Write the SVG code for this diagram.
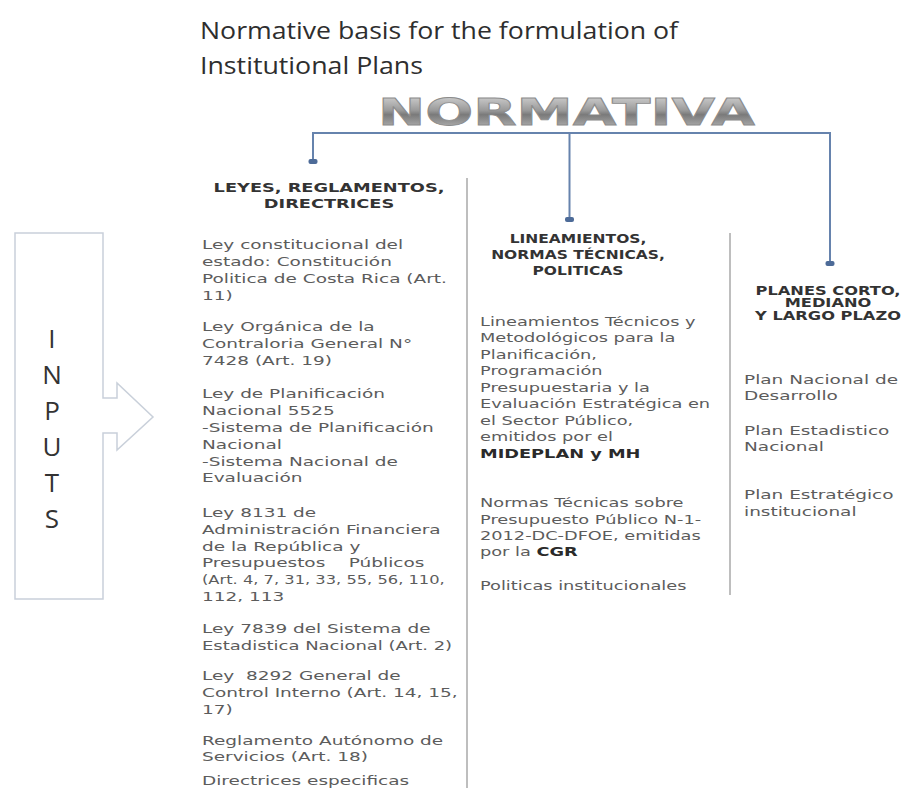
<svg xmlns="http://www.w3.org/2000/svg" width="905" height="788" viewBox="0 0 905 788">
<style>
.title{font-family:"Open Sans","Liberation Sans",sans-serif;font-size:24px;fill:#2e2e2e}
.body{font-family:"DejaVu Sans","Liberation Sans",sans-serif;font-size:12.5px;fill:#5c5c5c}
.b{font-weight:bold;fill:#2a2a2a}
.hdr{font-family:"DejaVu Sans","Liberation Sans",sans-serif;font-size:12.5px;font-weight:bold;fill:#333;text-anchor:middle}
.inp{font-family:"Open Sans","Liberation Sans",sans-serif;font-size:26px;fill:#333;text-anchor:middle}
.conn{stroke:#6683ad;stroke-width:2;fill:none}
.dot{fill:#4d6b98}
.sep{stroke:#a8a8a8;stroke-width:1.5}
</style>
<defs>
<linearGradient id="gN" x1="0" y1="0" x2="0" y2="1">
<stop offset="0" stop-color="#e0e0e0"/>
<stop offset="0.45" stop-color="#9a9a9a"/>
<stop offset="0.55" stop-color="#7a7a7a"/>
<stop offset="1" stop-color="#c8c8c8"/>
</linearGradient>
</defs>
<rect width="905" height="788" fill="#ffffff"/>

<g id="title">
<text class="title" x="200" y="39" textLength="478" lengthAdjust="spacingAndGlyphs">Normative basis for the formulation of</text>
<text class="title" x="200" y="74" textLength="223" lengthAdjust="spacingAndGlyphs">Institutional Plans</text>
</g>

<g id="normativa">
<text x="378" y="125" textLength="377" lengthAdjust="spacingAndGlyphs" font-family="'DejaVu Sans','Liberation Sans',sans-serif" font-weight="bold" font-size="37" fill="url(#gN)" stroke="#8c8c8c" stroke-width="0.8">NORMATIVA</text>
</g>

<g id="connectors">
<path class="conn" d="M313,161 V133 H830 V263"/>
<path class="conn" d="M569.5,133 V219"/>
<rect class="dot" x="308.5" y="159" width="9" height="5" rx="2"/>
<rect class="dot" x="565" y="217" width="9" height="5" rx="2"/>
<rect class="dot" x="825.5" y="261" width="9" height="5" rx="2"/>
</g>

<g id="inputs">
<path d="M15,233 H103 V398 H117 V383 L153,417 L117,450 V433 H103 V599 H15 Z" fill="#ffffff" stroke="#c9d0da" stroke-width="1.5"/>
<text class="inp" x="52" y="348">I</text>
<text class="inp" x="52" y="384">N</text>
<text class="inp" x="52" y="420">P</text>
<text class="inp" x="52" y="456">U</text>
<text class="inp" x="52" y="492">T</text>
<text class="inp" x="52" y="528">S</text>
</g>

<g id="col-leyes">
<line class="sep" x1="467" y1="178" x2="467" y2="788"/>
<g transform="translate(329 0) scale(1.42 1)">
<text class="hdr" x="0" y="192">LEYES, REGLAMENTOS,</text>
<text class="hdr" x="0" y="208">DIRECTRICES</text>
</g>
<g transform="translate(202 0) scale(1.48 1)">
<text class="body" x="0" y="249">Ley constitucional del</text>
<text class="body" x="0" y="266">estado: Constitución</text>
<text class="body" x="0" y="283">Politica de Costa Rica (Art.</text>
<text class="body" x="0" y="300">11)</text>
<text class="body" x="0" y="331">Ley Orgánica de la</text>
<text class="body" x="0" y="348">Contraloria General N°</text>
<text class="body" x="0" y="365">7428 (Art. 19)</text>
<text class="body" x="0" y="398">Ley de Planificación</text>
<text class="body" x="0" y="415">Nacional 5525</text>
<text class="body" x="0" y="432">-Sistema de Planificación</text>
<text class="body" x="0" y="449">Nacional</text>
<text class="body" x="0" y="466">-Sistema Nacional de</text>
<text class="body" x="0" y="482">Evaluación</text>
<text class="body" x="0" y="517">Ley 8131 de</text>
<text class="body" x="0" y="534">Administración Financiera</text>
<text class="body" x="0" y="551">de la República y</text>
<text class="body" x="0" y="567" style="white-space:pre">Presupuestos    Públicos</text>
<text class="body" x="0" y="584" textLength="164" lengthAdjust="spacingAndGlyphs">(Art. 4, 7, 31, 33, 55, 56, 110,</text>
<text class="body" x="0" y="601">112, 113</text>
<text class="body" x="0" y="633">Ley 7839 del Sistema de</text>
<text class="body" x="0" y="650" textLength="169" lengthAdjust="spacingAndGlyphs">Estadistica Nacional (Art. 2)</text>
<text class="body" x="0" y="680" style="white-space:pre">Ley  8292 General de</text>
<text class="body" x="0" y="697">Control Interno (Art. 14, 15,</text>
<text class="body" x="0" y="714">17)</text>
<text class="body" x="0" y="745">Reglamento Autónomo de</text>
<text class="body" x="0" y="761">Servicios (Art. 18)</text>
<text class="body" x="0" y="785">Directrices especificas</text>
</g>
</g>

<g id="col-lineamientos">
<line class="sep" x1="730" y1="233" x2="730" y2="595"/>
<g transform="translate(578 0) scale(1.24 1)">
<text class="hdr" x="0" y="243">LINEAMIENTOS,</text>
<text class="hdr" x="0" y="259">NORMAS TÉCNICAS,</text>
<text class="hdr" x="0" y="275">POLITICAS</text>
</g>
<g transform="translate(480 0) scale(1.42 1)">
<text class="body" x="0" y="326">Lineamientos Técnicos y</text>
<text class="body" x="0" y="342">Metodológicos para la</text>
<text class="body" x="0" y="359">Planificación,</text>
<text class="body" x="0" y="375">Programación</text>
<text class="body" x="0" y="392">Presupuestaria y la</text>
<text class="body" x="0" y="408">Evaluación Estratégica en</text>
<text class="body" x="0" y="425">el Sector Público,</text>
<text class="body" x="0" y="441">emitidos por el</text>
<text class="body b" x="0" y="458">MIDEPLAN y MH</text>
<text class="body" x="0" y="507">Normas Técnicas sobre</text>
<text class="body" x="0" y="524">Presupuesto Público N-1-</text>
<text class="body" x="0" y="540">2012-DC-DFOE, emitidas</text>
<text class="body" x="0" y="556">por la <tspan class="b">CGR</tspan></text>
<text class="body" x="0" y="590">Politicas institucionales</text>
</g>
</g>

<g id="col-planes">
<g transform="translate(828 0) scale(1.3 1)">
<text class="hdr" x="0" y="295">PLANES CORTO,</text>
<text class="hdr" x="0" y="307">MEDIANO</text>
<text class="hdr" x="0" y="320">Y LARGO PLAZO</text>
</g>
<g transform="translate(744 0) scale(1.48 1)">
<text class="body" x="0" y="384">Plan Nacional de</text>
<text class="body" x="0" y="400">Desarrollo</text>
<text class="body" x="0" y="435">Plan Estadistico</text>
<text class="body" x="0" y="451">Nacional</text>
<text class="body" x="0" y="499">Plan Estratégico</text>
<text class="body" x="0" y="516">institucional</text>
</g>
</g>
</svg>
